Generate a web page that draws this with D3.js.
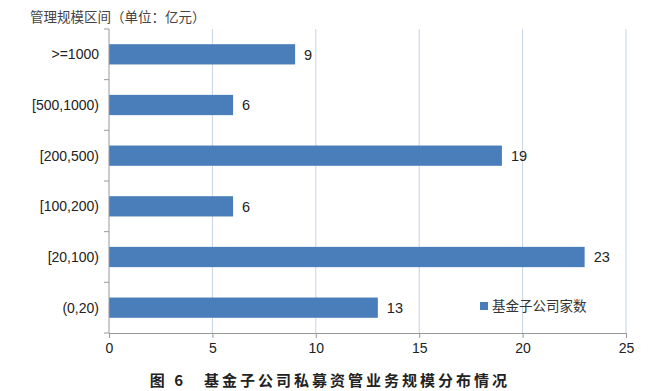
<!DOCTYPE html>
<html><head><meta charset="utf-8">
<script src="https://cdn.jsdelivr.net/npm/d3@7/dist/d3.min.js"></script>
<style>body{margin:0;background:#fff;}svg{display:block;}</style>
</head><body>
<svg id="c" width="672" height="391"></svg>
<script>
const categories = [">=1000", "[500,1000)", "[200,500)", "[100,200)", "[20,100)", "(0,20)"];
const values = [9, 6, 19, 6, 23, 13];
const xTicks = [0, 5, 10, 15, 20, 25];
const seriesName = "基金子公司家数";
const yTitle = "管理规模区间（单位：亿元）";
const chartTitle = "图 6　基金子公司私募资管业务规模分布情况";

const svg = d3.select("#c");
const m = {l:109, r:46, t:29, b:58};
const W = 672, H = 391;
const x = d3.scaleLinear().domain([0,25]).range([m.l, W - m.r]);
const y = d3.scaleBand().domain(categories).range([m.t, H - m.b]).paddingInner(0.6).paddingOuter(0.3);
const font = "'Liberation Sans', 'DejaVu Sans', sans-serif";
const cjk = "'Noto Sans CJK SC', sans-serif";

// gridlines
svg.append("g").selectAll("line").data(xTicks.filter(d=>d>0)).join("line")
  .attr("x1", d=>x(d)).attr("x2", d=>x(d)).attr("y1", m.t).attr("y2", H - m.b)
  .attr("stroke", "#c5d3e3").attr("stroke-width", 1);

// bars
svg.append("g").selectAll("rect").data(values).join("rect")
  .attr("x", x(0)).attr("y", (d,i)=>y(categories[i]))
  .attr("width", d=>x(d)-x(0)).attr("height", y.bandwidth())
  .attr("fill", "#4a7ebb");

// value labels
svg.append("g").selectAll("text").data(values).join("text")
  .attr("x", d=>x(d)+9).attr("y", (d,i)=>y(categories[i]) + y.bandwidth()/2)
  .attr("dy", "0.36em").attr("font-family", font).attr("font-size", 14.5).attr("fill", "#222")
  .text(d=>d);

// x axis
const xa = svg.append("g").attr("transform", `translate(0,${H - m.b})`)
  .call(d3.axisBottom(x).tickValues(xTicks).tickSize(5).tickPadding(5));
xa.select(".domain").attr("stroke", "#999");
xa.selectAll(".tick line").attr("stroke", "#999");
xa.selectAll(".tick text").attr("font-family", font).attr("font-size", 14).attr("fill", "#222");

// y axis
const ya = svg.append("g").attr("transform", `translate(${m.l},0)`);
ya.append("line").attr("x1",0).attr("x2",0).attr("y1",m.t).attr("y2",H-m.b).attr("stroke","#999");
const bounds = d3.range(categories.length+1).map(i => m.t + (H - m.t - m.b) * i / categories.length);
ya.selectAll("line.tk").data(bounds).join("line").attr("class","tk")
  .attr("x1",-5).attr("x2",0).attr("y1",d=>d).attr("y2",d=>d).attr("stroke","#999");
ya.selectAll("text").data(categories).join("text")
  .attr("x", -10).attr("y", d=>y(d)+y.bandwidth()/2).attr("dy","0.36em")
  .attr("text-anchor","end").attr("font-family", font).attr("font-size", 14).attr("fill","#222")
  .text(d=>d);

// y title
svg.append("text").attr("x", 30).attr("y", 22).attr("font-family", cjk).attr("font-size", 13.5)
  .attr("fill", "#444").text(yTitle);

// legend
svg.append("rect").attr("x", 480).attr("y", 302).attr("width", 8).attr("height", 8).attr("fill", "#4a7ebb");
svg.append("text").attr("x", 492).attr("y", 306).attr("dy","0.36em").attr("font-family", cjk)
  .attr("font-size", 13.5).attr("fill", "#333").text(seriesName);

// chart title
svg.append("text").attr("x", 330).attr("y", 386).attr("text-anchor","middle").attr("font-family", cjk)
  .attr("font-size", 15).attr("font-weight", "bold").attr("fill", "#222").attr("letter-spacing", "3px")
  .text(chartTitle);
</script>
</body></html>
